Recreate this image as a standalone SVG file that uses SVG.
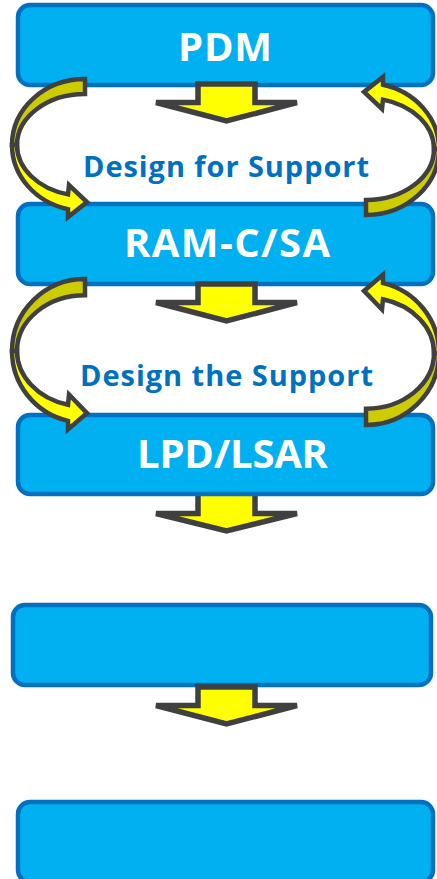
<svg xmlns="http://www.w3.org/2000/svg" xmlns:xlink="http://www.w3.org/1999/xlink" width="437" height="879" viewBox="0 0 437 879">
  <style>
    .box { fill: #00B0F0; stroke: #0070C0; stroke-width: 4.5; }
    .down { fill: #FFFF00; stroke: #404040; stroke-width: 5.5; stroke-linejoin: miter; }
    .back { fill: #CCCC00; stroke: #404040; stroke-width: 4.5; stroke-linejoin: miter; vector-effect: non-scaling-stroke; }
    .front { fill: #FFFF00; stroke: #404040; stroke-width: 4.5; stroke-linejoin: miter; vector-effect: non-scaling-stroke; }
    .title { font-family: "Open Sans", "Noto Sans", "Liberation Sans", sans-serif; font-weight: bold; font-size: 40px; fill: #FFFFFF; text-anchor: middle; }
    .phase { font-family: "Open Sans", "Noto Sans", "Liberation Sans", sans-serif; font-weight: bold; font-size: 29px; fill: #0070C0; text-anchor: middle; }
  </style>
  <defs>
    <!-- twisted loop arrow: back half (olive) above, front half (yellow) with head below -->
    <g id="loop">
      <path class="back" d="M85,79 A73,66 0 0 0 12,145 L17,145 A68,51 0 0 1 85,94 Z"/>
      <path class="front" d="M12,145 A73,66 0 0 0 68,209.2 L68,217 L87,202 L69,185 L68,194.4 A68,51 0 0 1 17,145 Z"/>
    </g>
  </defs>

  <!-- arrow from LPD/LSAR sits behind its box -->
  <g id="connectors-back">
    <polygon class="down" points="198,490 255,490 255,513.5 297,513.5 226.5,531 156,513.5 198,513.5"/>
  </g>

  <g id="node-pdm">
    <rect class="box" x="18" y="5" width="415" height="80" rx="12"/>
    <text class="title" x="225" y="60.5" textLength="94">PDM</text>
  </g>
  <g id="node-ramc">
    <rect class="box" x="18" y="204" width="415" height="80" rx="12"/>
    <text class="title" x="227" y="257" textLength="206">RAM-C/SA</text>
  </g>
  <g id="node-lpd">
    <rect class="box" x="18" y="415" width="415" height="79" rx="12"/>
    <text class="title" x="232.5" y="468" textLength="191">LPD/LSAR</text>
  </g>
  <g id="node-4">
    <rect class="box" x="13" y="605" width="418" height="80" rx="12"/>
  </g>
  <g id="node-5">
    <rect class="box" x="18" y="802" width="415" height="80" rx="12"/>
  </g>

  <g id="labels">
    <text class="phase" x="226" y="176.5" textLength="286">Design for Support</text>
    <text class="phase" x="226.5" y="386" textLength="293">Design the Support</text>
  </g>

  <g id="connectors">
    <polygon class="down" points="198,84 255,84 255,102.5 297,102.5 226.5,121 156,102.5 198,102.5"/>
    <polygon class="down" points="198,284 255,284 255,302.5 297,302.5 226.5,321 156,302.5 198,302.5"/>
    <polygon class="down" points="198,687 255,687 255,705.5 297,705.5 226.5,724 156,705.5 198,705.5"/>

    <use xlink:href="#loop"/>
    <use xlink:href="#loop" transform="rotate(180 225.5 147)"/>
    <use xlink:href="#loop" transform="translate(0,279) scale(1,1.09) translate(0,-79)"/>
    <use xlink:href="#loop" transform="rotate(180 225.5 352) translate(0,279) scale(1,1.09) translate(0,-79)"/>
  </g>
</svg>
